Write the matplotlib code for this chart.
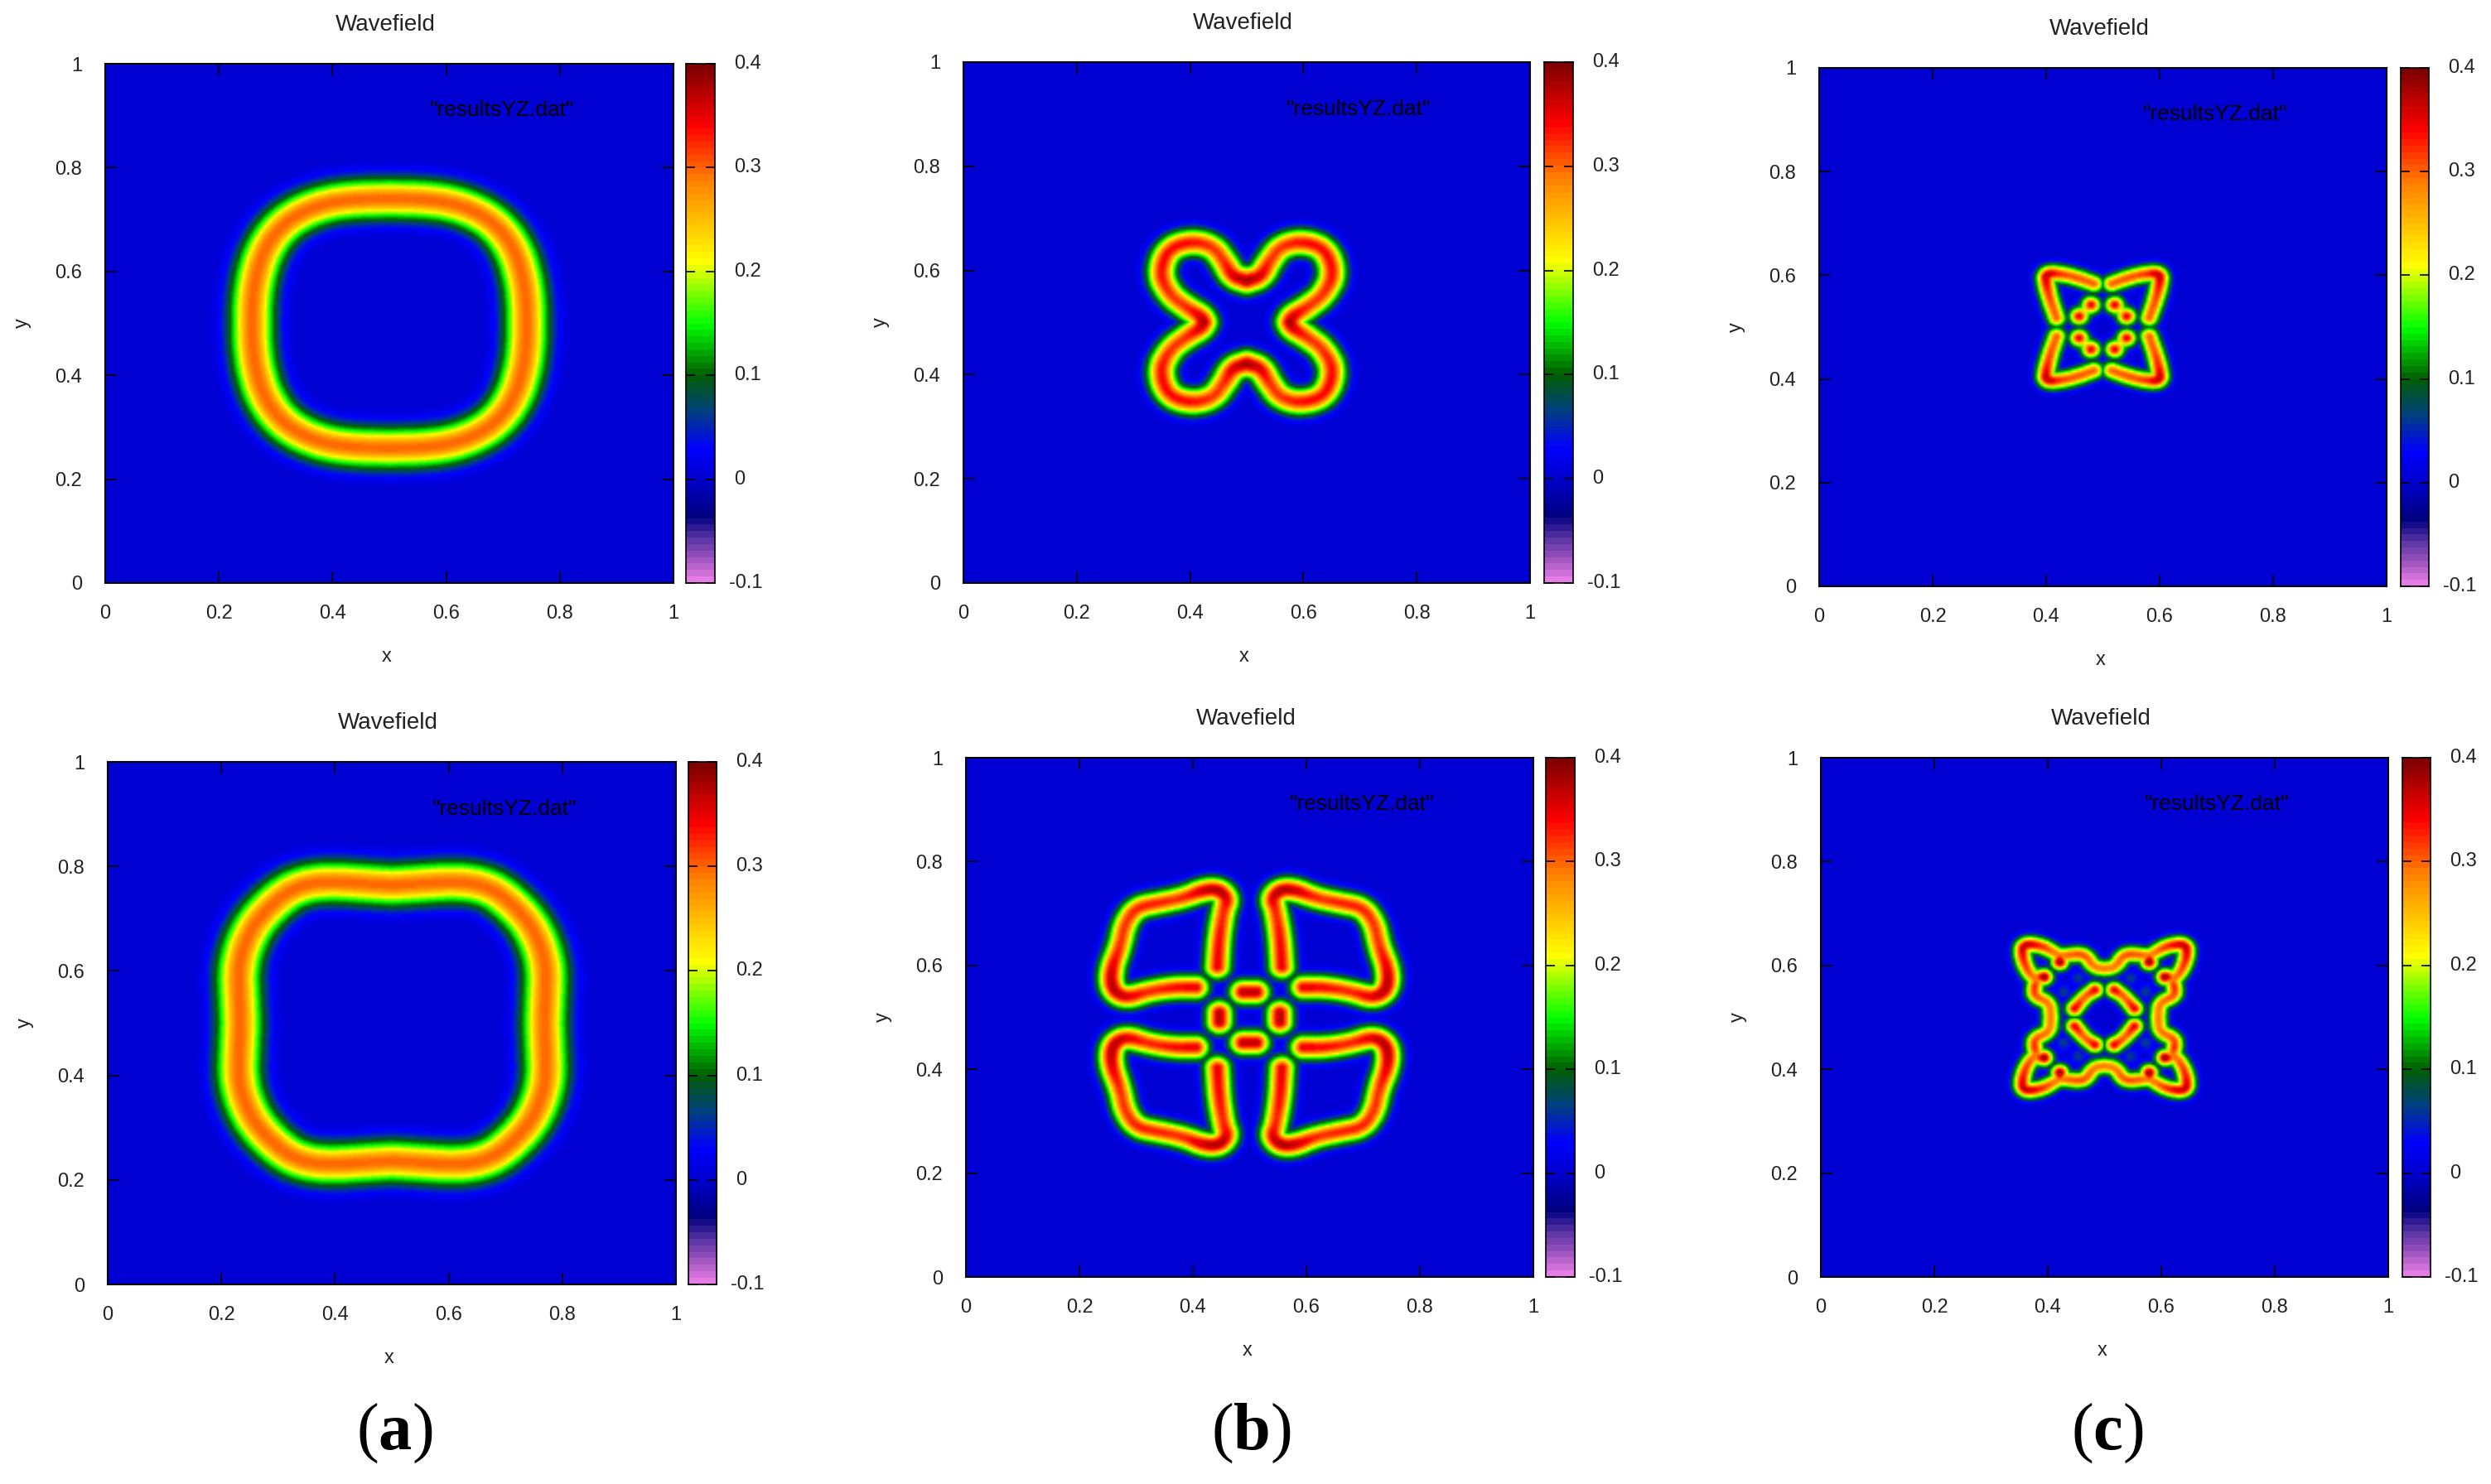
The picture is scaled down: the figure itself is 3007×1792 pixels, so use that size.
import numpy as np
import matplotlib
matplotlib.use('Agg')
import matplotlib.pyplot as plt
from matplotlib.colors import LinearSegmentedColormap

W, H = 3007, 1792

# colour scale
cb_values = [-0.1, -0.08, -0.06, -0.038, 0.0, 0.028, 0.064, 0.1, 0.149, 0.21, 0.29, 0.342, 0.4]
cb_colors = ['#e67de6', '#a055c0', '#5a35a5', '#000080', '#0000d0', '#0000ff', '#004080',
             '#006000', '#00ff00', '#ffff00', '#ff8000', '#ff0000', '#800000']
cb_ticks = [-0.1, 0, 0.1, 0.2, 0.3, 0.4]
cb_labels = ['-0.1', '0', '0.1', '0.2', '0.3', '0.4']
xy_ticks = [0, 0.2, 0.4, 0.6, 0.8, 1]
xy_labels = ['0', '0.2', '0.4', '0.6', '0.8', '1']
sub_letters = ['a', 'b', 'c']

# wave crest lines in the upper right quarter, as (dx, dy, height) from the centre
a_top = [[(0, .241, .3), (.06, .24, .3), (.115, .232, .3), (.165, .21, .3), (.2, .178, .3),
          (.224, .135, .3), (.237, .085, .3), (.242, .04, .3), (.2425, 0, .3)]]
a_bottom = [[(0, .265, .3), (.05, .268, .3), (.105, .272, .3), (.15, .268, .3), (.19, .25, .3),
             (.238, .2, .3), (.262, .15, .3), (.272, .1, .3), (.27, .05, .3), (.268, 0, .3)]]
b_top = [[(0, .08, .38), (.025, .088, .36), (.04, .117, .32), (.06, .146, .32), (.098, .156, .34),
          (.14, .141, .34), (.155, .093, .34), (.136, .052, .32), (.106, .028, .32),
          (.081, .011, .36), (.077, 0, .38)]]
b_bottom = [[(.057, .098, .35), (.054, .154, .34), (.046, .207, .32), (.039, .229, .36),
             (.054, .247, .38), (.08, .247, .37), (.117, .231, .32), (.161, .221, .33),
             (.2, .213, .33), (.221, .181, .32), (.229, .138, .32), (.246, .09, .36),
             (.243, .053, .38), (.219, .037, .36), (.18, .05, .32), (.136, .058, .34), (.095, .058, .35)],
            [(0, .049, .37), (.012, .049, .37)],
            [(.0535, 0, .37), (.0535, .009, .37)]]
c_top = [[(.016, .084, .3), (.043, .095, .31), (.072, .103, .31), (.1, .104, .38), (.101, .087, .35),
          (.094, .055, .31), (.082, .018, .3)],
         [(0, .081, .11), (.006, .081, .11)],
         [(.082, 0, .11), (.082, .005, .11)],
         [(.021, .043, .35), (.031, .032, .13), (.042, .021, .35)]]
c_bottom = [[(0, .094, .29), (.019, .097, .29), (.034, .121, .31), (.054, .122, .31), (.079, .118, .29),
             (.09, .126, .29), (.112, .139, .33), (.144, .142, .38), (.146, .118, .34), (.136, .089, .31),
             (.119, .07, .29), (.124, .06, .33), (.124, .041, .31), (.097, .028, .29), (.095, 0, .29)],
            [(.079, .107, .39), (.079, .118, .29)],
            [(.107, .078, .39), (.119, .078, .29)],
            [(.017, .053, .35), (.034, .041, .29), (.053, .017, .35)],
            [(.046, .075, .06), (.046, .076, .06)],
            [(.073, .049, .06), (.073, .05, .06)]]

# crest half widths read per panel
crests = [a_top, b_top, c_top, a_bottom, b_bottom, c_bottom]
widths = [.038, .025, .017, .039, .023, .016]

# pixel boxes: left, right, top, bottom, colour bar left, colour bar right
boxes = [(127, 813, 77, 704, 828, 863),
         (1163, 1847, 75, 704, 1864, 1899),
         (2196, 2881, 82, 708, 2898, 2932),
         (130, 816, 920, 1551, 831, 865),
         (1166, 1851, 915, 1542, 1866, 1901),
         (2198, 2883, 915, 1542, 2900, 2934)]
sub_xy = [(476, 1731), (1510, 1731), (2544, 1731)]

plt.rcParams['font.family'] = ['Liberation Sans', 'DejaVu Sans']
plt.rcParams['mathtext.fontset'] = 'custom'
plt.rcParams['mathtext.rm'] = 'Liberation Serif'
plt.rcParams['mathtext.bf'] = 'Liberation Serif:bold'
txt = '#222222'
lw = 1.5


def smooth(stroke):
    pts = np.array(stroke, dtype=float)
    for i in range(3):
        q = 0.75 * pts[:-1] + 0.25 * pts[1:]
        r = 0.25 * pts[:-1] + 0.75 * pts[1:]
        mid = np.empty((2 * len(q), 3))
        mid[0::2] = q
        mid[1::2] = r
        pts = np.vstack([pts[0], mid, pts[-1]])
    # keep dots dense enough for a smooth ridge
    out = []
    for p0, p1 in zip(pts[:-1], pts[1:]):
        n = max(1, int(np.hypot(*(p1 - p0)[:2]) / 0.002))
        for t in np.arange(n) / n:
            out.append(p0 + (p1 - p0) * t)
    out.append(pts[-1])
    return np.array(out)


def field(strokes, w, n=257):
    g = np.linspace(0, 1, n)
    x, y = np.meshgrid(np.abs(g - 0.5), np.abs(g - 0.5))
    z = np.zeros_like(x)
    for s in strokes:
        for dx, dy, amp in smooth(s):
            z = np.maximum(z, amp * np.exp(-((x - dx) ** 2 + (y - dy) ** 2) / w ** 2))
    return z


def px_axes(fig, left, right, top, bottom):
    return fig.add_axes([left / W, 1 - bottom / H, (right - left) / W, (bottom - top) / H])


pos = [(v + 0.1) / 0.5 for v in cb_values]
cmap = LinearSegmentedColormap.from_list('wave', list(zip(pos, cb_colors)), N=80)

fig = plt.figure(figsize=(W / 100, H / 100), dpi=100)
for strokes, w, box in zip(crests, widths, boxes):
    left, right, top, bottom, c0, c1 = box
    ax = px_axes(fig, left, right, top, bottom)
    ax.imshow(field(strokes, w), origin='lower', extent=[0, 1, 0, 1], aspect='auto', cmap=cmap,
              vmin=-0.1, vmax=0.4, interpolation='bilinear')
    ax.set_xticks(xy_ticks)
    ax.set_xticklabels(xy_labels)
    ax.set_yticks(xy_ticks)
    ax.set_yticklabels(xy_labels)
    ax.tick_params(direction='in', length=10, width=1.2, top=True, right=True, labelsize=17,
                   labelcolor=txt, pad=19)
    ax.tick_params(axis='y', pad=20)
    for sp in ax.spines.values():
        sp.set_linewidth(lw)
    ax.text(0.825, 0.91, '"resultsYZ.dat"', transform=ax.transAxes, ha='right', va='center',
            fontsize=19, color='black')
    fig.text((left + right) / 2 / W - 0.0015, 1 - (top - 47) / H, 'Wavefield', ha='center', va='center',
             fontsize=20, color=txt)
    fig.text((left + right) / 2 / W - 0.001, 1 - (bottom + 89) / H, 'x', ha='center', va='center',
             fontsize=17, color=txt)
    fig.text((left - 100) / W, 1 - (top + bottom) / 2 / H, 'y', ha='center', va='center', rotation=90,
             fontsize=17, color=txt)

    cb = px_axes(fig, c0, c1, top, bottom)
    grad = np.linspace(-0.1, 0.4, 160).reshape(-1, 1)
    cb.imshow(grad, origin='lower', extent=[0, 1, -0.1, 0.4], aspect='auto', cmap=cmap,
              vmin=-0.1, vmax=0.4, interpolation='nearest')
    cb.set_xticks([])
    cb.set_yticks(cb_ticks)
    cb.set_yticklabels([])
    cb.tick_params(direction='in', length=8, width=1.2, left=True, right=True)
    for sp in cb.spines.values():
        sp.set_linewidth(1.2)
    for v, s in zip(cb_ticks, cb_labels):
        shift = 12 if s.startswith('-') else 17
        cb.annotate(s, xy=(1, v), xycoords=cb.get_yaxis_transform(), xytext=(shift, 0),
                    textcoords='offset points', ha='left', va='center', fontsize=17, color=txt)

for s, (sx, sy) in zip(sub_letters, sub_xy):
    fig.text(sx / W, 1 - sy / H, r'$\mathrm{(}\mathbf{' + s + r'}\mathrm{)}$', ha='center', va='center',
             fontsize=58, color='black')

fig.savefig('out.png', dpi=100)
